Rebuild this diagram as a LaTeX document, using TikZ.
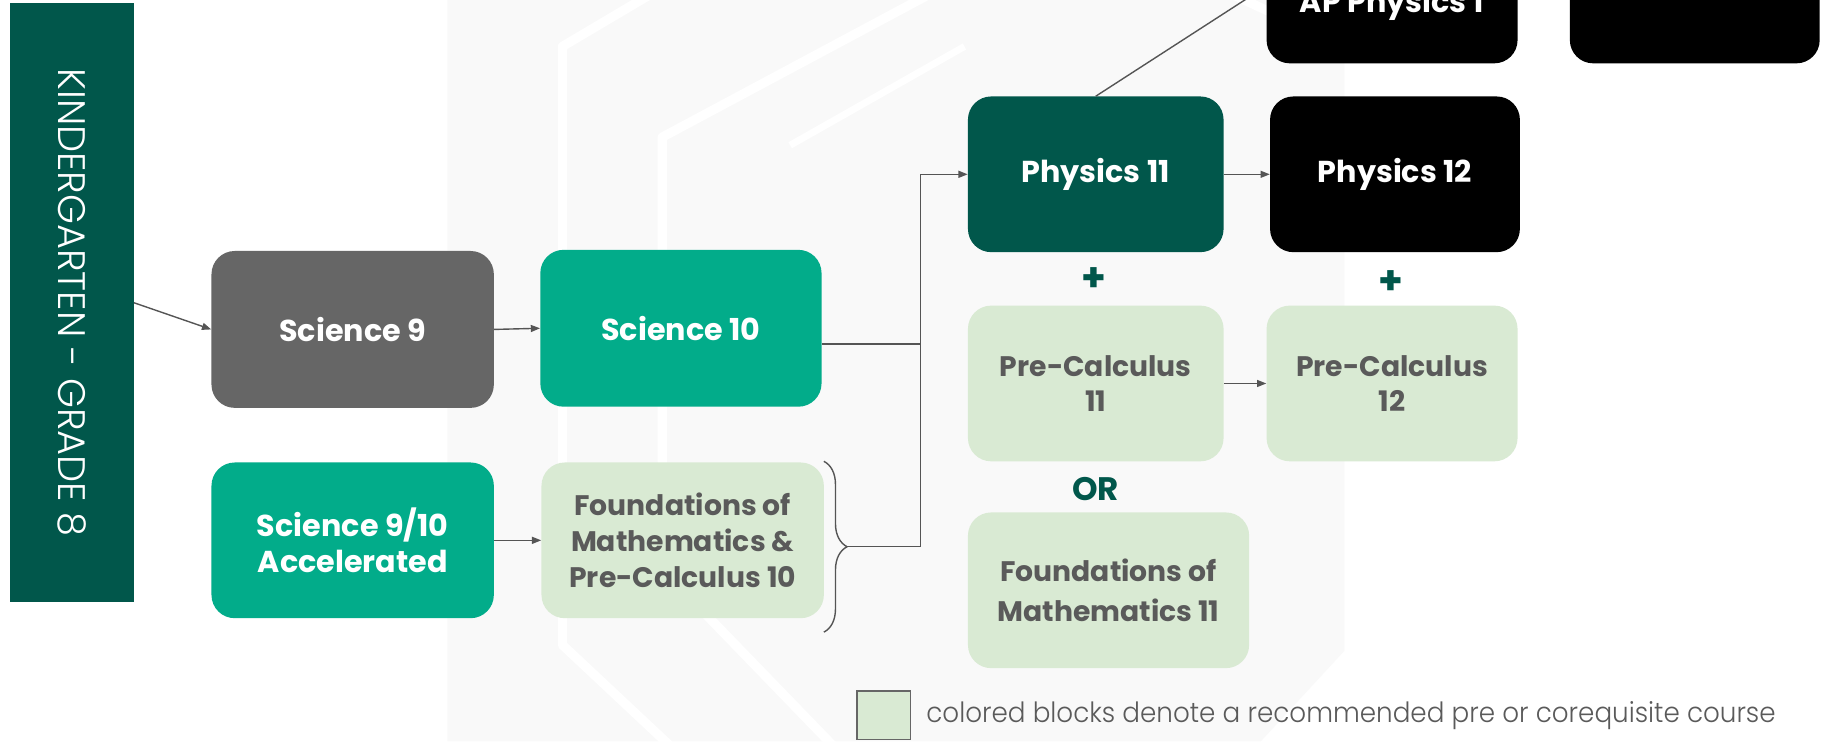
\documentclass[tikz,border=0pt]{standalone}
\usepackage{fontspec}
\setmainfont{Poppins}
\newfontfamily\lightfont{Poppins Light}
\usetikzlibrary{arrows.meta,decorations.pathreplacing,calc}
\definecolor{dgreen}{HTML}{01574B}
\definecolor{teal}{HTML}{02AC8A}
\definecolor{midgray}{HTML}{666666}
\definecolor{lgreen}{HTML}{D9EAD3}
\definecolor{txtgray}{HTML}{5A5A5A}
\definecolor{linegray}{HTML}{555555}
\definecolor{wmgray}{HTML}{F9F9F9}
\tikzset{
  box/.style={rectangle, rounded corners=20pt, inner sep=0pt, align=center,
    font=\bfseries\fontsize{26}{31}\selectfont},
  darkbox/.style={box, fill=dgreen, text=white},
  greybox/.style={box, fill=midgray, text=white},
  tealbox/.style={box, fill=teal, text=white},
  blackbox/.style={box, fill=black, text=white},
  lightbox/.style={box, fill=lgreen, text=txtgray, font=\bfseries\fontsize{24.3}{31}\selectfont},
  conn/.style={draw=linegray, line width=1.2pt},
  arr/.style={conn, -{Triangle[length=8pt,width=6pt]}},
  sym/.style={text=dgreen, font=\bfseries\fontsize{34}{34}\selectfont, inner sep=0pt},
  wmline/.style={draw=white, line width=8pt, line join=round}
}
\begin{document}
\begin{tikzpicture}[x=1pt,y=-1pt]
\useasboundingbox (0,0) rectangle (1568,638);
\clip (0,0) rectangle (1568,638);
\fill[white] (0,0) rectangle (1568,638);
% watermark
\fill[wmgray] (385,0) -- (1157,0) -- (1157,560) -- (1085,638) -- (385,638) -- cycle;
\draw[wmline] (560,-5) -- (484,40) -- (484,555) -- (580,645);
\draw[wmline] (800,-5) -- (570,118) -- (570,490) -- (720,645);
\draw[wmline] (1157,40) -- (1060,-5);
\draw[wmline, line width=6pt] (680,125) -- (830,40);

% side bar
\node[fill=dgreen, minimum width=106pt, minimum height=515pt, inner sep=0pt] (kg) at (62,260.5) {};
\node[text=white, rotate=-90, font=\lightfont\fontsize{33}{33}\selectfont, inner sep=0pt] (kgtxt) at (kg.center) {\scalebox{1.0}[1]{KINDERGARTEN - GRADE 8}};

% boxes
\node[greybox, minimum width=243pt, minimum height=135pt] (sci9) at (303.5,283.5) {Science 9};
\node[tealbox, minimum width=242pt, minimum height=135pt] (sci10) at (586,282.5) {Science 10};
\node[tealbox, minimum width=243pt, minimum height=134pt] (acc) at (303.5,465) {Science 9/10\\Accelerated};
\node[lightbox, minimum width=243pt, minimum height=134pt] (fnd10) at (587.5,465) {Foundations of\\Mathematics \&\\Pre-Calculus 10};
\node[darkbox, minimum width=220pt, minimum height=134pt] (phy11) at (943,150) {Physics 11};
\node[blackbox, minimum width=215pt, minimum height=134pt] (phy12) at (1200.5,150) {Physics 12};
\node[blackbox, minimum width=216pt, minimum height=101pt] (ap1) at (1198,4) {AP Physics 1};
\node[blackbox, minimum width=215pt, minimum height=101pt] (apr) at (1458.5,4) {};
\node[lightbox, minimum width=220pt, minimum height=134pt, font=\bfseries\fontsize{24.3}{30}\selectfont] (pc11) at (943,330) {Pre-Calculus\\11};
\node[lightbox, minimum width=216pt, minimum height=134pt, font=\bfseries\fontsize{24.3}{30}\selectfont] (pc12) at (1198,330) {Pre-Calculus\\12};
\node[lightbox, minimum width=242pt, minimum height=134pt, font=\bfseries\fontsize{24.3}{34}\selectfont] (fnd11) at (954,508) {Foundations of\\Mathematics 11};

\node[sym] (plusa) at (941,241) {+};
\node[sym] (plusb) at (1197,243) {+};
\node[sym, font=\bfseries\fontsize{28}{28}\selectfont] (orlbl) at (943,421) {OR};

% legend
\node[fill=lgreen, draw=midgray, line width=1.2pt, minimum width=46pt, minimum height=42pt, inner sep=0pt] (legbox) at (760.5,615.5) {};
\node[anchor=west, text=txtgray, font=\lightfont\fontsize{24}{24}\selectfont, inner sep=0pt] (legtext) at (797,616) {\scalebox{0.94}[1]{colored blocks denote a recommended pre or corequisite course}};

% connectors
\draw[arr] (kg.east) -- (sci9.west);
\draw[arr] (sci9.east) -- (sci10.west);
\draw[arr] (acc.east) -- (fnd10.west);
\coordinate (btop) at (709,397);
\coordinate (bbot) at (709,544);
\draw[conn, line width=1.2pt, decorate, decoration={brace, amplitude=20pt, aspect=0.5}] (btop) -- (bbot);
\coordinate (btip) at (729,470.5);
\coordinate (jb) at (792,470.5);
\coordinate (jm) at (792,296);
\coordinate (jt) at (792,150);
\draw[conn] (sci10.east |- jm) -- (jm);
\draw[arr] (btip) -- (jb) -- (jt) -- (phy11.west);
\draw[arr] (phy11.east) -- (phy12.west);
\draw[arr] (pc11.east) -- (pc12.west);
\coordinate (apin) at ([yshift=16pt]ap1.west);
\draw[arr] (phy11.north) -- (apin);
\end{tikzpicture}
\end{document}
